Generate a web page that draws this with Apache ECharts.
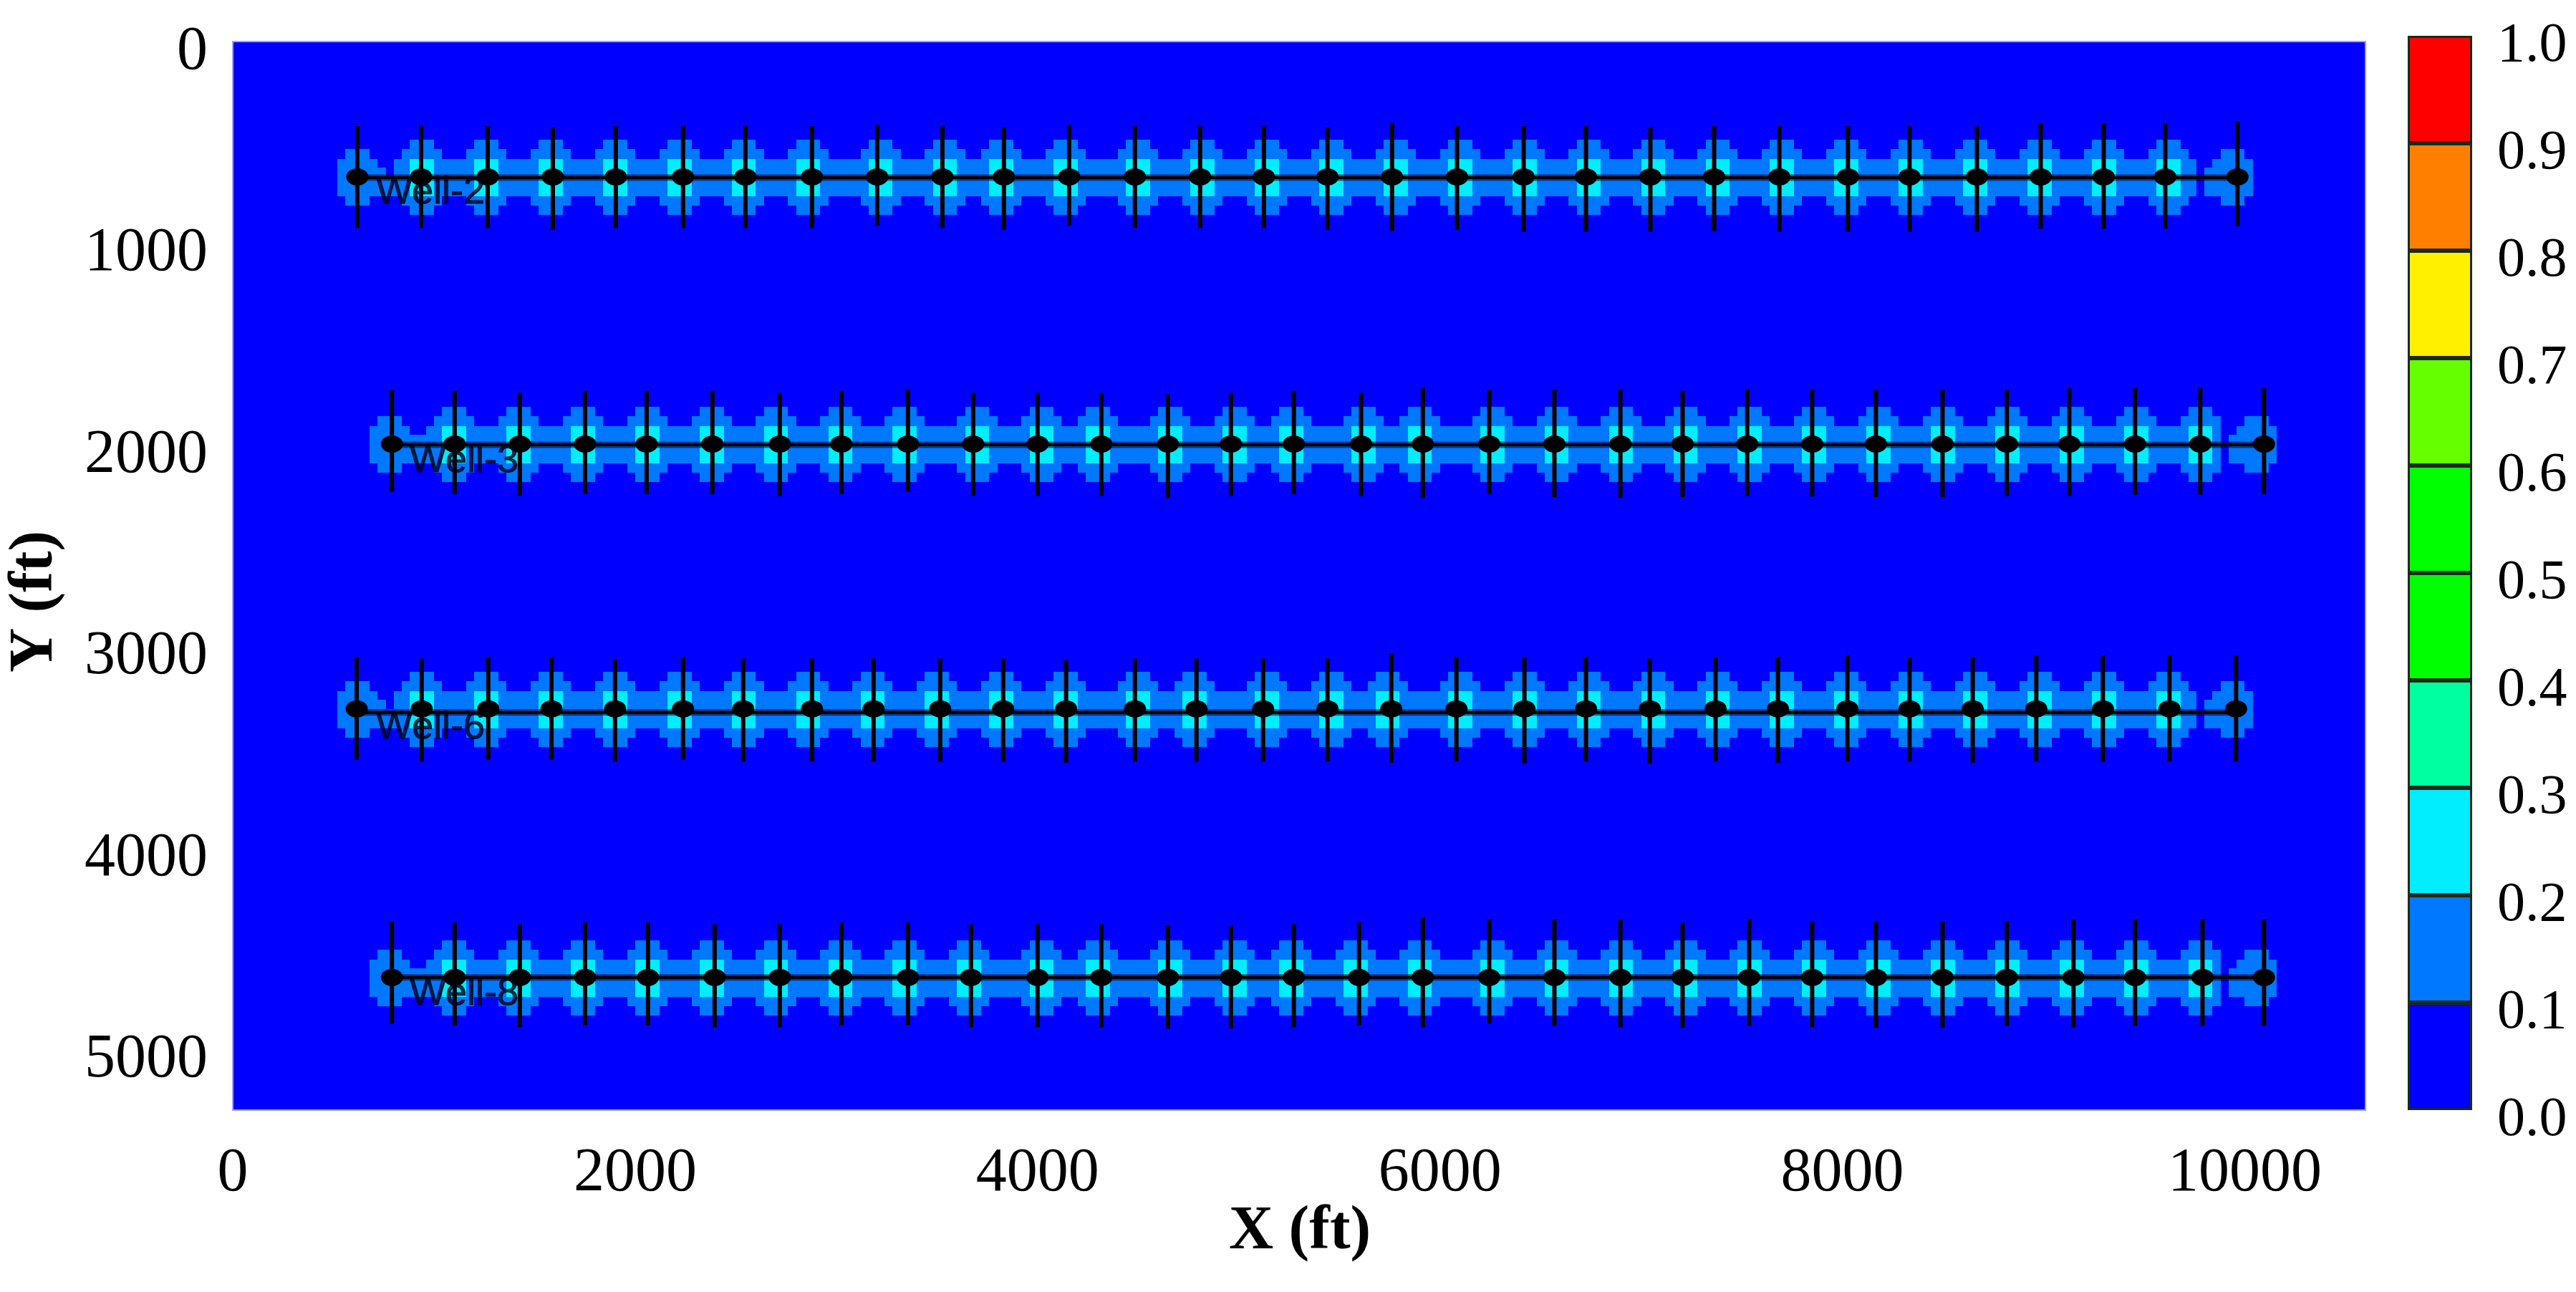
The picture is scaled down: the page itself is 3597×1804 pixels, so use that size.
<!DOCTYPE html>
<html>
<head>
<meta charset="utf-8">
<style>html,body{margin:0;padding:0;background:#fff}#c{width:3597px;height:1804px}</style>
<script src="https://cdn.jsdelivr.net/npm/echarts@6/dist/echarts.min.js"></script>
</head>
<body>
<div id="c"></div>
<script>
var xTicks = [0, 2000, 4000, 6000, 8000, 10000];
var yTicks = [0, 1000, 2000, 3000, 4000, 5000];
var barTicks = [0, 0.1, 0.2, 0.3, 0.4, 0.5, 0.6, 0.7, 0.8, 0.9, 1.0];
var bandColors = ['#0000ff', '#0078ff', '#00eeff', '#00ff9f', '#00ff00', '#00ff00', '#66ff00', '#fff000', '#ff8000', '#ff0000'];
var bandSizes = [0.1, 0.1, 0.1, 0.1, 0.1, 0.1, 0.1, 0.1, 0.1, 0.1];
var wellNames = ['Well-2', 'Well-3', 'Well-6', 'Well-8'];
var wellY = [671, 1996, 3310, 4642];
var wellLineY = [675, 2000, 3328, 4642];
var labelX = [712, 879, 712, 879];
var labelY = [749, 2081, 3403, 4725];
var well2X = [619, 936, 1267, 1591, 1904, 2238, 2548, 2879, 3203, 3527, 3833, 4157, 4484, 4808, 5125, 5441, 5762, 6085, 6416, 6726, 7046, 7363, 7687, 8028, 8334, 8669, 8986, 9299, 9605, 9964];
var well3X = [791, 1103, 1427, 1751, 2057, 2384, 2719, 3025, 3356, 3680, 4000, 4317, 4648, 4961, 5274, 5608, 5915, 6245, 6569, 6897, 7206, 7527, 7850, 8167, 8498, 8818, 9128, 9455, 9779, 10096];
var well6X = [616, 939, 1270, 1584, 1900, 2238, 2537, 2879, 3185, 3516, 3829, 4142, 4484, 4790, 5121, 5441, 5758, 6082, 6420, 6726, 7043, 7370, 7680, 8025, 8334, 8648, 8964, 9295, 9626, 9957];
var well8X = [791, 1103, 1427, 1751, 2064, 2395, 2719, 3025, 3356, 3669, 4000, 4317, 4648, 4961, 5274, 5598, 5915, 6245, 6569, 6897, 7206, 7537, 7850, 8167, 8498, 8818, 9149, 9455, 9790, 10096];
var well2Top = [419, 419, 419, 427, 419, 419, 419, 419, 412, 419, 427, 412, 419, 419, 419, 427, 404, 419, 419, 419, 427, 419, 419, 419, 419, 419, 404, 404, 404, 398];
var well2Bot = [925, 925, 925, 933, 925, 925, 925, 925, 913, 925, 933, 913, 925, 925, 925, 933, 940, 933, 945, 945, 945, 940, 945, 945, 945, 945, 928, 928, 928, 916];
var well3Top = [1726, 1733, 1742, 1733, 1733, 1733, 1742, 1733, 1726, 1742, 1742, 1742, 1750, 1742, 1733, 1742, 1718, 1726, 1726, 1726, 1733, 1726, 1726, 1726, 1726, 1726, 1718, 1718, 1718, 1718];
var well3Bot = [2233, 2245, 2254, 2245, 2245, 2245, 2254, 2245, 2233, 2254, 2254, 2254, 2263, 2254, 2245, 2254, 2263, 2245, 2259, 2263, 2259, 2254, 2257, 2259, 2259, 2254, 2254, 2248, 2248, 2245];
var well6Top = [3052, 3060, 3052, 3052, 3062, 3052, 3060, 3060, 3060, 3060, 3060, 3068, 3060, 3060, 3060, 3060, 3038, 3052, 3052, 3052, 3060, 3052, 3052, 3045, 3052, 3052, 3045, 3045, 3045, 3045];
var well6Bot = [3562, 3571, 3562, 3562, 3571, 3562, 3571, 3571, 3571, 3571, 3571, 3577, 3571, 3571, 3571, 3571, 3577, 3571, 3580, 3571, 3580, 3571, 3577, 3571, 3571, 3577, 3571, 3571, 3571, 3571];
var well8Top = [4362, 4370, 4378, 4368, 4370, 4378, 4378, 4370, 4370, 4378, 4378, 4378, 4386, 4386, 4378, 4368, 4346, 4355, 4355, 4355, 4370, 4355, 4362, 4362, 4362, 4362, 4355, 4355, 4355, 4355];
var well8Bot = [4871, 4879, 4889, 4879, 4879, 4889, 4889, 4879, 4879, 4889, 4889, 4889, 4895, 4895, 4889, 4879, 4889, 4871, 4882, 4889, 4891, 4882, 4889, 4891, 4891, 4882, 4889, 4882, 4882, 4882];
var wellX = [well2X, well3X, well6X, well8X];
var wellTop = [well2Top, well3Top, well6Top, well8Top];
var wellBot = [well2Bot, well3Bot, well6Bot, well8Bot];

// contour cells, as [dyStart, dyEnd, dxStart, dxEnd] in ft around a fracture
var innerLight = [[-185, -139, -40, 80], [-139, -89, -80, 120], [96, 142, -80, 120], [142, 188, -40, 80]];
var innerCyan = [[-89, 96, -40, 80]];
var firstEnd = [[-139, -89, -60, 60], [-89, -47, -107, 107], [-47, 0, -107, 150], [0, 96, -107, 200], [96, 142, -60, 60]];
var lastEnd = [[-139, -89, -80, 35], [-89, -47, -135, 80], [-47, 0, -167, 80], [0, 96, -167, 80], [96, 142, -80, 35]];
var bandStartGap = 180, bandEndGap = 200, bandDy = [-89, 96];

function snap(v) { return Math.round(v / 40) * 40; }
var cellData = [];
wellX.forEach(function (xs, w) {
  var yc = wellY[w], n = xs.length;
  cellData.push([snap(xs[0] + bandStartGap), snap(xs[n - 1] - bandEndGap), yc + bandDy[0], yc, 1]);
  cellData.push([snap(xs[0]), snap(xs[n - 1] - bandEndGap), yc, yc + bandDy[1], 1]);
  firstEnd.forEach(function (r) { cellData.push([snap(xs[0] + r[2]), snap(xs[0] + r[3]), yc + r[0], yc + r[1], 1]); });
  lastEnd.forEach(function (r) { cellData.push([snap(xs[n - 1] + r[2]), snap(xs[n - 1] + r[3]), yc + r[0], yc + r[1], 1]); });
  for (var i = 1; i < n - 1; i++) {
    var f = Math.floor(xs[i] / 40) * 40;
    innerLight.forEach(function (r) { cellData.push([f + r[2], f + r[3], yc + r[0], yc + r[1], 1]); });
  }
});
wellX.forEach(function (xs, w) {
  var yc = wellY[w];
  for (var i = 1; i < xs.length - 1; i++) {
    var f = Math.floor(xs[i] / 40) * 40;
    innerCyan.forEach(function (r) { cellData.push([f + r[2], f + r[3], yc + r[0], yc + r[1], 2]); });
  }
});

var fractureData = [], dotData = [], labelData = [], lineSeries = [];
wellX.forEach(function (xs, w) {
  xs.forEach(function (x, i) {
    fractureData.push([x, wellTop[w][i], wellBot[w][i]]);
    dotData.push([x, wellY[w]]);
  });
  labelData.push({ value: [labelX[w], labelY[w]], name: wellNames[w] });
  var pts = [[xs[0], wellLineY[w]], [xs[xs.length - 1], wellLineY[w]]];
  lineSeries.push({ type: 'line', xAxisIndex: 0, yAxisIndex: 0, data: pts, symbol: 'none', silent: true, z: 3,
    lineStyle: { color: 'rgba(0,0,40,0.55)', width: 9 } });
  lineSeries.push({ type: 'line', xAxisIndex: 0, yAxisIndex: 0, data: pts, symbol: 'none', silent: true, z: 4,
    lineStyle: { color: '#000000', width: 4 } });
});

var serif = '"Liberation Serif", "Times New Roman", serif';
var plain = function (v) { return String(v); };
var series = [{
  type: 'custom', xAxisIndex: 0, yAxisIndex: 0, data: cellData, silent: true, z: 2, clip: true,
  encode: { x: [0, 1], y: [2, 3] },
  renderItem: function (p, api) {
    var a = api.coord([api.value(0), api.value(2)]), b = api.coord([api.value(1), api.value(3)]);
    var x0 = Math.round(a[0]), y0 = Math.round(a[1]), x1 = Math.round(b[0]), y1 = Math.round(b[1]);
    return { type: 'rect', shape: { x: x0, y: y0, width: x1 - x0, height: y1 - y0 },
      style: { fill: bandColors[api.value(4)] } };
  }
}].concat(lineSeries).concat([{
  type: 'custom', xAxisIndex: 0, yAxisIndex: 0, data: fractureData, silent: true, z: 5,
  encode: { x: 0, y: [1, 2] },
  renderItem: function (p, api) {
    var a = api.coord([api.value(0), api.value(1)]), b = api.coord([api.value(0), api.value(2)]);
    return { type: 'line', shape: { x1: a[0], y1: a[1], x2: b[0], y2: b[1] },
      style: { stroke: '#000', lineWidth: 6 } };
  }
}, {
  type: 'scatter', xAxisIndex: 0, yAxisIndex: 0, data: dotData, silent: true, z: 6,
  symbol: 'circle', symbolSize: [31, 24], itemStyle: { color: '#000', opacity: 1 }
}, {
  type: 'scatter', xAxisIndex: 0, yAxisIndex: 0, data: labelData, silent: true, z: 7,
  symbolSize: 0,
  label: { show: true, position: 'right', distance: 0, formatter: '{b}', color: '#00001a',
    textBorderColor: '#00001a', textBorderWidth: 1,
    fontFamily: '"Liberation Sans", Arial, sans-serif', fontSize: 54 }
}]);
bandSizes.forEach(function (v, i) {
  series.push({ type: 'bar', xAxisIndex: 1, yAxisIndex: 1, stack: 'bar', data: [v], barWidth: '100%', silent: true,
    itemStyle: { color: bandColors[i], borderColor: '#1c2a1c', borderWidth: 3 } });
});

var chart = echarts.init(document.getElementById('c'), null, { width: 3597, height: 1804 });
chart.setOption({
  animation: false,
  backgroundColor: '#fff',
  grid: [
    { left: 325, top: 58, width: 2978, height: 1492, show: true, backgroundColor: '#0000ff', borderWidth: 2, borderColor: '#a0a0ff' },
    { left: 3362, top: 50, width: 90, height: 1500, show: false }
  ],
  xAxis: [{
    gridIndex: 0, type: 'value', min: 0, max: 10600, interval: 2000,
    axisLine: { show: false }, axisTick: { show: false }, splitLine: { show: false },
    axisLabel: { customValues: xTicks, formatter: plain, color: '#000', fontFamily: serif, fontSize: 86, margin: 46, hideOverlap: false }
  }, {
    gridIndex: 1, type: 'category', data: ['bar'], axisLine: { show: false }, axisTick: { show: false }, axisLabel: { show: false }
  }],
  yAxis: [{
    gridIndex: 0, type: 'value', min: 0, max: 5300, inverse: true, interval: 1000,
    axisLine: { show: false }, axisTick: { show: false }, splitLine: { show: false },
    axisLabel: { customValues: yTicks, margin: 35,
      formatter: function (v) { return '{t|' + v + '}'; },
      rich: { t: { color: '#000', fontFamily: serif, fontSize: 86, padding: [30, 0, 0, 0] } } }
  }, {
    gridIndex: 1, type: 'value', min: 0, max: 1, interval: 0.1, position: 'right',
    axisLine: { show: false }, axisTick: { show: false }, splitLine: { show: false },
    axisLabel: { customValues: barTicks, margin: 35,
      formatter: function (v) { return '{t|' + v.toFixed(1) + '}'; },
      rich: { t: { color: '#000', fontFamily: serif, fontSize: 78, padding: [30, 0, 0, 0] } } }
  }],
  graphic: [
    { type: 'text', left: 1716, top: 1678, style: { text: 'X (ft)', font: 'bold 86px "Liberation Serif"', fill: '#000' } },
    { type: 'text', x: 50, y: 840, rotation: Math.PI / 2,
      style: { text: 'Y (ft)', font: 'bold 86px "Liberation Serif"', fill: '#000', align: 'center', verticalAlign: 'middle' } }
  ],
  series: series
});
</script>
</body>
</html>
